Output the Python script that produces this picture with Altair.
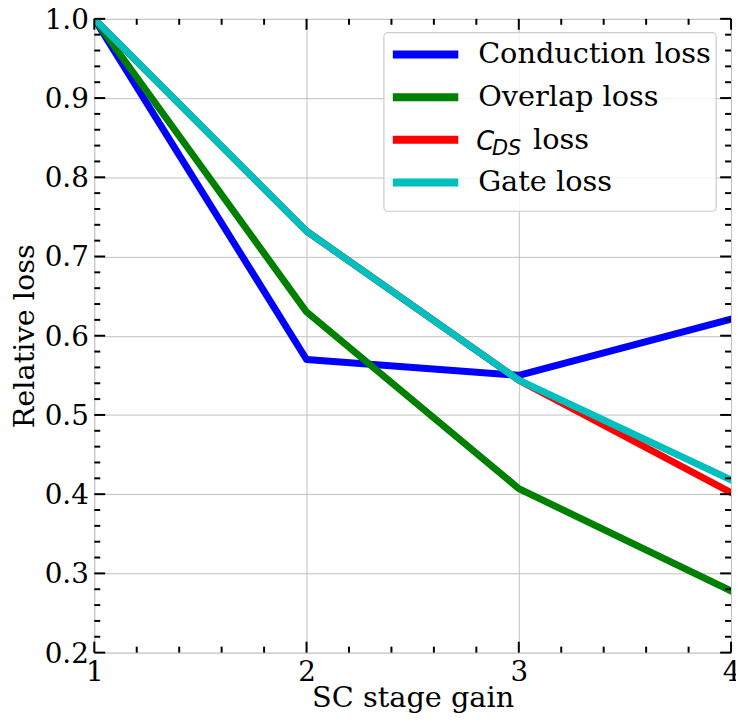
import altair as alt
import pandas as pd

gain = [1, 2, 3, 4]
conduction = [1.0, 0.570, 0.550, 0.621]
overlap = [1.0, 0.630, 0.407, 0.278]
cds = [1.0, 0.732, 0.544, 0.402]
gate = [1.0, 0.732, 0.544, 0.418]

series_names = ["Conduction loss", "Overlap loss", "CDS loss", "Gate loss"]
series_colors = ["#0000ff", "#008000", "#ff0000", "#00bfbf"]

y_major = [0.2, 0.3, 0.4, 0.5, 0.6, 0.7, 0.8, 0.9, 1.0]
y_minor = [round(0.2 + 0.02 * i, 2) for i in range(41) if i % 5 != 0]
x_major = [1, 2, 3, 4]
x_minor = [round(1 + 0.2 * i, 1) for i in range(16) if i % 5 != 0]

W, H = 642, 639
FONT = "DejaVu Serif"
FS = 28
LFS = 29

rows = []
for name, vals in zip(series_names, [conduction, overlap, cds, gate]):
    for g, v in zip(gain, vals):
        rows.append({"gain": g, "loss": v, "series": name})
df = pd.DataFrame(rows)

xscale = alt.Scale(domain=[1, 4], nice=False, zero=False)
yscale = alt.Scale(domain=[0.2, 1.0], nice=False, zero=False)

xaxis = alt.Axis(
    title="SC stage gain", values=x_major, format="d", ticks=False, domain=False,
    labelFontSize=FS, labelFont=FONT, labelColor="black", labelPadding=6,
    titleFont=FONT, titleFontSize=LFS, titleFontWeight="normal", titleColor="black",
    titleBaseline="alphabetic", titleY=54,
    grid=True, gridColor="#c0c0c0", gridWidth=1, labelFlush=False)
yaxis = alt.Axis(
    title="Relative loss", values=y_major, format=".1f", ticks=False, domain=False,
    labelFontSize=FS, labelFont=FONT, labelColor="black", labelPadding=6, labelOffset=1.5,
    titleFont=FONT, titleFontSize=LFS, titleFontWeight="normal", titleColor="black",
    titlePadding=5, grid=True, gridColor="#c0c0c0", gridWidth=1, labelFlush=False)

# legend frame (drawn under the lines, above the grid)
frame_df = pd.DataFrame({"k": [0]})
frame = alt.Chart(frame_df).mark_rect(
    fill="white", fillOpacity=0.8, stroke="#cccccc", strokeWidth=1.2, cornerRadius=4
).encode(x=alt.value(292), x2=alt.value(627), y=alt.value(14), y2=alt.value(194))

GAP = "\u200b" + "\u00a0" * 6
lines = alt.Chart(df).mark_line(
    strokeWidth=7, strokeCap="square", strokeJoin="round", clip=True
).encode(
    x=alt.X("gain:Q", scale=xscale, axis=xaxis),
    y=alt.Y("loss:Q", scale=yscale, axis=yaxis),
    color=alt.Color("series:N", scale=alt.Scale(domain=series_names, range=series_colors),
                    legend=alt.Legend(
                        title=None, orient="none", legendX=293, legendY=15,
                        symbolType="stroke", symbolSize=4356, symbolStrokeWidth=8,
                        clipHeight=34, rowPadding=9, padding=4, labelOffset=16,
                        labelFont=FONT, labelFontSize=LFS, labelColor="black",
                        labelExpr="datum.label == 'CDS loss' ? '" + GAP + "loss' : datum.label",
                        labelLimit=400)),
)

def ticks(values, length, side):
    d = pd.DataFrame({"v": values})
    c = alt.Chart(d).mark_rule(color="black", strokeWidth=2)
    if side == "left":
        return c.encode(y=alt.Y("v:Q", scale=yscale, axis=yaxis), x=alt.value(0), x2=alt.value(length))
    if side == "right":
        return c.encode(y=alt.Y("v:Q", scale=yscale, axis=yaxis), x=alt.value(W), x2=alt.value(W - length))
    if side == "bottom":
        return c.encode(x=alt.X("v:Q", scale=xscale, axis=xaxis), y=alt.value(H), y2=alt.value(H - length))
    return c.encode(x=alt.X("v:Q", scale=xscale, axis=xaxis), y=alt.value(0), y2=alt.value(length))

tick_layers = []
for side in ["left", "right"]:
    tick_layers.append(ticks(y_major, 11, side))
    tick_layers.append(ticks(y_minor, 6, side))
for side in ["bottom", "top"]:
    tick_layers.append(ticks(x_major, 11, side))
    tick_layers.append(ticks(x_minor, 6, side))

# italic C with subscript DS for the C_DS legend entry
sub_df = pd.DataFrame({"t": ["C"], "s": ["DS"]})
c_text = alt.Chart(sub_df).mark_text(font="DejaVu Sans", fontStyle="italic", fontSize=26,
                                     align="left", baseline="alphabetic", color="black").encode(
    text="t:N", x=alt.value(385), y=alt.value(132))
ds_text = alt.Chart(sub_df).mark_text(font="DejaVu Sans", fontStyle="italic", fontSize=21,
                                      align="left", baseline="alphabetic", color="black").encode(
    text="s:N", x=alt.value(401), y=alt.value(137))

chart = alt.layer(frame, lines, *tick_layers, c_text, ds_text).properties(
    width=W, height=H,
    autosize=alt.AutoSizeParams(type="none"),
    padding={"left": 87, "top": 8, "right": 5, "bottom": 62}
).configure_view(stroke="black", strokeWidth=2.5).configure(background="white")

chart.save("out.html", embed_options={"renderer": "svg", "actions": False})
